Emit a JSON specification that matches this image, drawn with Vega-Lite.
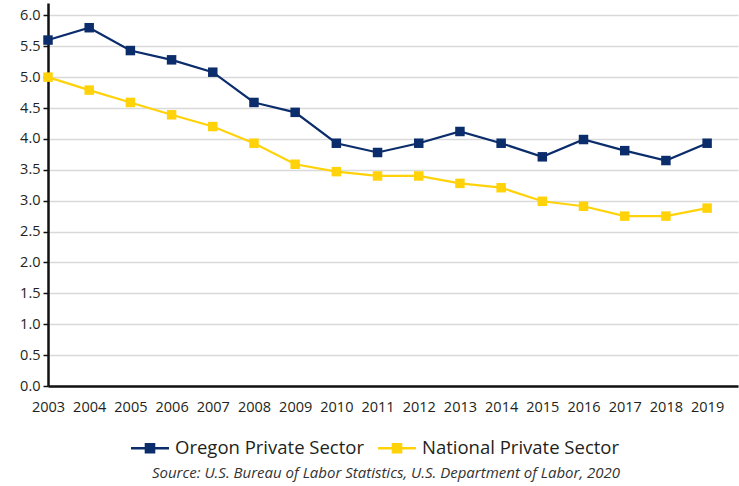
{
  "$schema": "https://vega.github.io/schema/vega-lite/v6.json",
  "width": 690,
  "height": 383,
  "autosize": "none",
  "padding": {"left": 48, "top": 3, "right": 1, "bottom": 100},
  "background": "white",
  "config": {
    "view": {"stroke": null},
    "font": "Open Sans"
  },
  "title": {
    "text": "Source: U.S. Bureau of Labor Statistics, U.S. Department of Labor, 2020",
    "orient": "bottom",
    "anchor": "middle",
    "font": "Open Sans",
    "fontSize": 15,
    "fontStyle": "italic",
    "fontWeight": "normal",
    "color": "#333333",
    "offset": 8,
    "dx": -7
  },
  "data": {
    "values": [
      {"year": 2003, "series": "Oregon Private Sector", "rate": 5.6},
      {"year": 2004, "series": "Oregon Private Sector", "rate": 5.8},
      {"year": 2005, "series": "Oregon Private Sector", "rate": 5.43},
      {"year": 2006, "series": "Oregon Private Sector", "rate": 5.28},
      {"year": 2007, "series": "Oregon Private Sector", "rate": 5.08},
      {"year": 2008, "series": "Oregon Private Sector", "rate": 4.59},
      {"year": 2009, "series": "Oregon Private Sector", "rate": 4.43},
      {"year": 2010, "series": "Oregon Private Sector", "rate": 3.93},
      {"year": 2011, "series": "Oregon Private Sector", "rate": 3.78},
      {"year": 2012, "series": "Oregon Private Sector", "rate": 3.93},
      {"year": 2013, "series": "Oregon Private Sector", "rate": 4.12},
      {"year": 2014, "series": "Oregon Private Sector", "rate": 3.93},
      {"year": 2015, "series": "Oregon Private Sector", "rate": 3.71},
      {"year": 2016, "series": "Oregon Private Sector", "rate": 3.99},
      {"year": 2017, "series": "Oregon Private Sector", "rate": 3.81},
      {"year": 2018, "series": "Oregon Private Sector", "rate": 3.65},
      {"year": 2019, "series": "Oregon Private Sector", "rate": 3.93},
      {"year": 2003, "series": "National Private Sector", "rate": 5.0},
      {"year": 2004, "series": "National Private Sector", "rate": 4.79},
      {"year": 2005, "series": "National Private Sector", "rate": 4.59},
      {"year": 2006, "series": "National Private Sector", "rate": 4.39},
      {"year": 2007, "series": "National Private Sector", "rate": 4.2},
      {"year": 2008, "series": "National Private Sector", "rate": 3.93},
      {"year": 2009, "series": "National Private Sector", "rate": 3.59},
      {"year": 2010, "series": "National Private Sector", "rate": 3.47},
      {"year": 2011, "series": "National Private Sector", "rate": 3.4},
      {"year": 2012, "series": "National Private Sector", "rate": 3.4},
      {"year": 2013, "series": "National Private Sector", "rate": 3.28},
      {"year": 2014, "series": "National Private Sector", "rate": 3.21},
      {"year": 2015, "series": "National Private Sector", "rate": 2.99},
      {"year": 2016, "series": "National Private Sector", "rate": 2.91},
      {"year": 2017, "series": "National Private Sector", "rate": 2.75},
      {"year": 2018, "series": "National Private Sector", "rate": 2.75},
      {"year": 2019, "series": "National Private Sector", "rate": 2.88}
    ]
  },
  "encoding": {
    "x": {
      "field": "year",
      "type": "quantitative",
      "scale": {"domain": [2003, 2019.75], "nice": false, "zero": false},
      "axis": {
        "title": null,
        "values": [2003, 2004, 2005, 2006, 2007, 2008, 2009, 2010, 2011, 2012, 2013, 2014, 2015, 2016, 2017, 2018, 2019],
        "format": "d",
        "grid": false,
        "ticks": false,
        "labelPadding": 14,
        "labelFontSize": 14.5,
        "labelColor": "#231f20",
        "labelFont": "Open Sans",
        "domainColor": "#111111",
        "domainWidth": 2.5,
        "labelFlush": false,
        "labelOverlap": false
      }
    },
    "y": {
      "field": "rate",
      "type": "quantitative",
      "scale": {"domain": [0, 6.2], "nice": false},
      "axis": {
        "title": null,
        "values": [0, 0.5, 1, 1.5, 2, 2.5, 3, 3.5, 4, 4.5, 5, 5.5, 6],
        "format": ".1f",
        "grid": true,
        "gridColor": "#d9d9d9",
        "gridWidth": 1.5,
        "tickColor": "#111111",
        "tickSize": 5,
        "tickWidth": 1.5,
        "labelPadding": 3,
        "labelFontSize": 14.5,
        "labelColor": "#231f20",
        "labelFont": "Open Sans",
        "domainColor": "#111111",
        "domainWidth": 2.5
      }
    },
    "color": {
      "field": "series",
      "type": "nominal",
      "scale": {
        "domain": ["Oregon Private Sector", "National Private Sector"],
        "range": ["#0b2d6b", "#ffd20a"]
      },
      "legend": {
        "title": null,
        "orient": "none",
        "direction": "horizontal",
        "legendX": 88,
        "legendY": 431,
        "symbolType": "M-1.5,0H1.5M-0.32,-0.32H0.32V0.32H-0.32Z",
        "symbolSize": 641,
        "symbolStrokeWidth": 2.5,
        "labelFontSize": 18.5,
        "labelLimit": 400,
        "labelFont": "Open Sans",
        "labelColor": "#231f20",
        "labelOffset": 11,
        "columnPadding": 8,
        "encode": {
          "symbols": {
            "update": {
              "fill": {"scale": "color", "field": "value"},
              "stroke": {"scale": "color", "field": "value"},
              "opacity": {"value": 1},
              "fillOpacity": {"value": 1}
            }
          }
        }
      }
    }
  },
  "layer": [
    {"mark": {"type": "line", "strokeWidth": 2.2}},
    {"mark": {"type": "point", "shape": "square", "size": 90, "filled": true, "opacity": 1}}
  ]
}
